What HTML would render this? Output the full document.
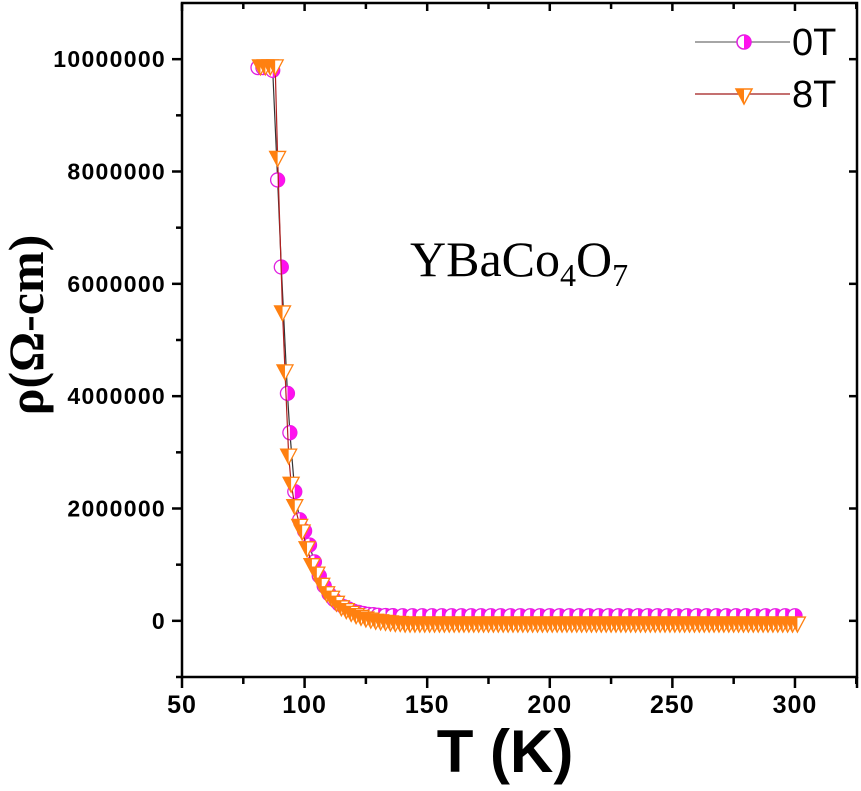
<!DOCTYPE html>
<html><head><meta charset="utf-8"><style>
body{margin:0;background:#fff;}
svg text{font-family:"Liberation Sans",sans-serif;font-weight:bold;}
</style></head><body>
<svg id="chart" width="861" height="786" viewBox="0 0 861 786" xmlns="http://www.w3.org/2000/svg">
<g id="axes"></g><g id="plot"></g>
<text transform="translate(43,325) rotate(-90)" text-anchor="middle" font-size="50" style="font-family:'Liberation Serif',serif;font-weight:bold">ρ(Ω-cm)</text>
<text x="505" y="772" text-anchor="middle" font-size="60">T (K)</text>
<text x="410" y="276" style="font-family:'Liberation Serif',serif;font-weight:normal" font-size="50">YBaCo<tspan font-size="32" dy="10">4</tspan><tspan dy="-10">O</tspan><tspan font-size="32" dy="10">7</tspan></text>
<g>
<line x1="695" y1="42" x2="790" y2="42" stroke="#888" stroke-width="1.5"/>
<g><circle cx="744" cy="42" r="7" fill="#fff" stroke="#e020e0" stroke-width="1.5"/><path d="M744,35 A7,7 0 0 1 744,49 Z" fill="#ff10ee"/></g>
<text x="792" y="55" font-size="38" style="font-family:'Liberation Sans',sans-serif;font-weight:normal">0T</text>
<line x1="695" y1="94" x2="790" y2="94" stroke="#b04040" stroke-width="1.5"/>
<g><path d="M736,89 L752,89 L744,104 Z" fill="#fff" stroke="#ff8010" stroke-width="1.5"/><path d="M736,89 L744,89 L744,104 Z" fill="#ff8010"/></g>
<text x="792" y="107" font-size="38" style="font-family:'Liberation Sans',sans-serif;font-weight:normal">8T</text>
</g>
</svg>
<script>
const xTicks=[50,100,150,200,250,300];
const yTicks=[0,2000000,4000000,6000000,8000000,10000000];
const T0=[81,83,87,89,90.5,93,94,96,98,100,102,104,106,108,110,112,114,116,118,120,122,124,126,128,130,133,136,140,144,148,152,156,160,164,168,172,176,180,184,188,192,196,200,204,208,212,216,220,224,228,232,236,240,244,248,252,256,260,264,268,272,276,280,284,288,292,296,300];
const rho0=[9850000,9850000,9800000,7850000,6300000,4050000,3350000,2300000,1800000,1600000,1350000,1050000,800000,620000,480000,380000,300000,250000,210000,170000,150000,130000,115000,110000,100000,95000,92000,90000,90000,90000,90000,90000,90000,90000,90000,90000,90000,90000,90000,90000,90000,90000,90000,90000,90000,90000,90000,90000,90000,90000,90000,90000,90000,90000,90000,90000,90000,90000,90000,90000,90000,90000,90000,90000,90000,90000,90000,90000];
const T8=[82,84,86,88,89,91,92,93.5,94.5,96,98,99,101,103,105,107,109,111,113,115,117,119,121,123,125,127,129,131,133,135,137,139,141,143,145,147,149,151,153,155,157,159,161,163,165,167,169,171,173,175,177,179,181,183,185,187,189,191,193,195,197,199,201,203,205,207,209,211,213,215,217,219,221,223,225,227,229,231,233,235,237,239,241,243,245,247,249,251,253,255,257,259,261,263,265,267,269,271,273,275,277,279,281,283,285,287,289,291,293,295,297,299,301];
const rho8=[9880000,9880000,9880000,9880000,8250000,5500000,4450000,2950000,2450000,2050000,1700000,1600000,1300000,1000000,850000,650000,500000,420000,330000,250000,200000,150000,110000,80000,50000,30000,10000,0,-10000,-20000,-30000,-30000,-40000,-40000,-40000,-40000,-40000,-40000,-40000,-40000,-40000,-40000,-40000,-40000,-40000,-40000,-40000,-40000,-40000,-40000,-40000,-40000,-40000,-40000,-40000,-40000,-40000,-40000,-40000,-40000,-40000,-40000,-40000,-40000,-40000,-40000,-40000,-40000,-40000,-40000,-40000,-40000,-40000,-40000,-40000,-40000,-40000,-40000,-40000,-40000,-40000,-40000,-40000,-40000,-40000,-40000,-40000,-40000,-40000,-40000,-40000,-40000,-40000,-40000,-40000,-40000,-40000,-40000,-40000,-40000,-40000,-40000,-40000,-40000,-40000,-40000,-40000,-40000,-40000,-40000,-40000,-40000,-40000];
const X0=182,X1=857,Y0=677,Y1=3,xmin=50,xmax=325.3,ymin=-1000000,ymax=11000000;
const sx=v=>X0+(v-xmin)/(xmax-xmin)*(X1-X0);
const sy=v=>Y0-(v-ymin)/(ymax-ymin)*(Y0-Y1);
const NS="http://www.w3.org/2000/svg";
function mk(tag,attrs,parent){const e=document.createElementNS(NS,tag);for(const k in attrs)e.setAttribute(k,attrs[k]);parent.appendChild(e);return e;}
const ax=document.getElementById('axes'),pl=document.getElementById('plot');
const fr=mk('rect',{x:X0,y:Y1,width:X1-X0,height:Y0-Y1,fill:'none',stroke:'#000','stroke-width':2.5},ax);


xTicks.forEach((v,i)=>{
 const x=sx(v);
 mk('line',{x1:x,y1:Y0,x2:x,y2:Y0+11,stroke:'#000','stroke-width':2.5},ax);
 mk('line',{x1:x,y1:Y1,x2:x,y2:Y1+8,stroke:'#000','stroke-width':2.5},ax);
 const xm=sx(v+25);
 if(v+25<xmax){mk('line',{x1:xm,y1:Y0,x2:xm,y2:Y0+7,stroke:'#000','stroke-width':2.5},ax);mk('line',{x1:xm,y1:Y1,x2:xm,y2:Y1+6,stroke:'#000','stroke-width':2.5},ax);}
 const t=mk('text',{x:x,y:713,'text-anchor':'middle','font-size':25,'letter-spacing':1},ax);t.textContent=v;
 
 
});
mk('line',{x1:X1,y1:Y0,x2:X1,y2:Y0+11,stroke:'#000','stroke-width':2.5},ax);
yTicks.forEach(v=>{
 const y=sy(v);
 mk('line',{x1:X0-10,y1:y,x2:X0,y2:y,stroke:'#000','stroke-width':2.5},ax);
 mk('line',{x1:X1-8,y1:y,x2:X1,y2:y,stroke:'#000','stroke-width':2.5},ax);
 const t=mk('text',{x:166,y:y+8,'text-anchor':'end','font-size':23,'letter-spacing':1.3},ax);t.textContent=v;
 
 
});
[-1000000,1000000,3000000,5000000,7000000,9000000].forEach(v=>{const y=sy(v);mk('line',{x1:X0-6,y1:y,x2:X0,y2:y,stroke:'#000','stroke-width':2.5},ax);});
const l0=mk('polyline',{points:T0.map((t,i)=>sx(t)+','+sy(rho0[i])).join(' '),fill:'none',stroke:'#333','stroke-width':1.2},pl);


T0.forEach((t,i)=>{
 const x=sx(t),y=sy(rho0[i]);
 const g=mk('g',{},pl);
 
 
 mk('circle',{cx:x,cy:y,r:7,fill:'#fff',stroke:'#e020e0','stroke-width':1.3},g);
 mk('path',{d:`M${x},${y-7} A7,7 0 0 1 ${x},${y+7} Z`,fill:'#ff10ee'},g);
});
const l8=mk('polyline',{points:T8.map((t,i)=>sx(t)+','+sy(rho8[i])).join(' '),fill:'none',stroke:'#b02020','stroke-width':1.2},pl);


T8.forEach((t,i)=>{
 const x=sx(t),y=sy(rho8[i]);
 const g=mk('g',{},pl);
 
 
 mk('path',{d:`M${x-8},${y-6} L${x+8},${y-6} L${x},${y+9} Z`,fill:'#fff',stroke:'#ff8010','stroke-width':1.3},g);
 mk('path',{d:`M${x-8},${y-6} L${x},${y-6} L${x},${y+9} Z`,fill:'#ff8010'},g);
});
</script>
</body></html>
